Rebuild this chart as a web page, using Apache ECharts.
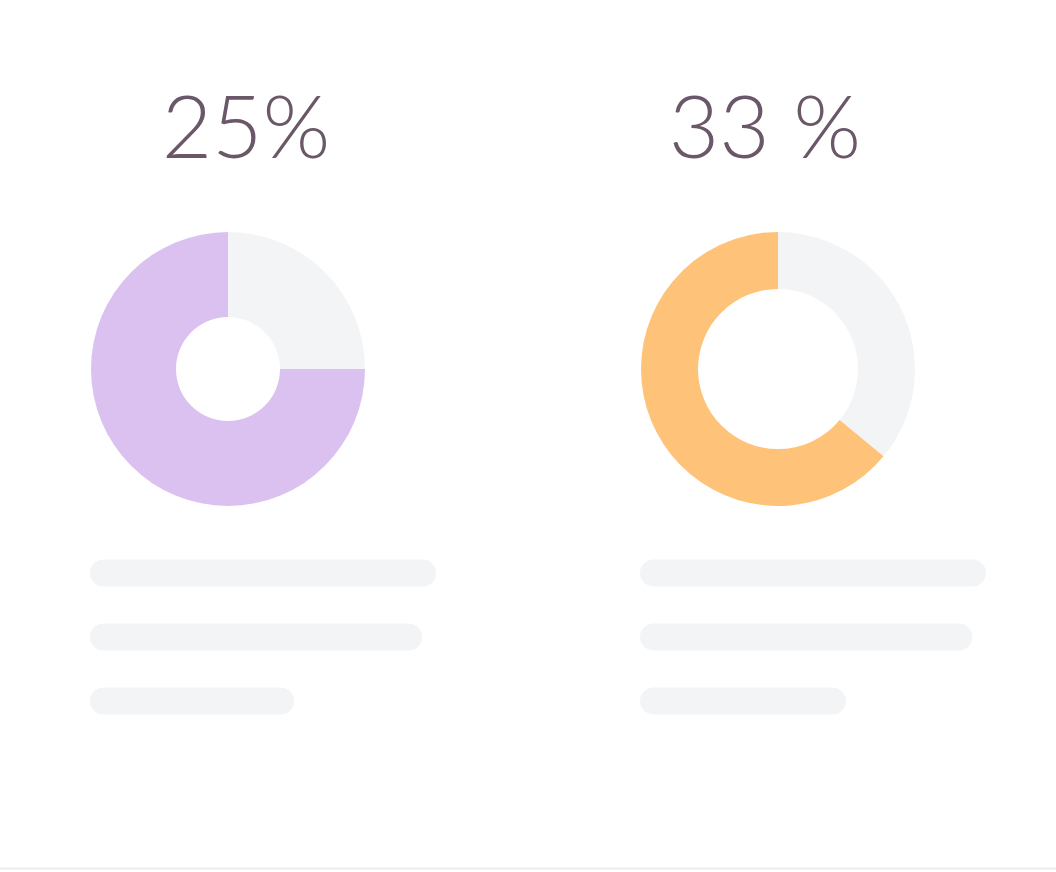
<!DOCTYPE html>
<html>
<head>
<meta charset="utf-8">
<script src="https://cdn.jsdelivr.net/npm/echarts@6/dist/echarts.min.js"></script>
<style>
  html, body { margin: 0; padding: 0; background: #fff; }
  #chart { width: 1056px; height: 872px; }
</style>
</head>
<body>
<div id="chart"></div>
<script>
// donut values (rest / filled)
const headings = ['25%', '33 %'];
const restValues = [25, 36];
const fillValues = [75, 64];
const fillColors = ['#dbc1f0', '#ffc279'];

// placeholder text lines under each donut
const lineRows = ['line1', 'line2', 'line3'];
const leftLines = [100, 96, 59];
const rightLines = [100, 96, 59.5];

const chart = echarts.init(document.getElementById('chart'));

const centersX = [228, 778];
const innerR = [52, 80];

const pieSeries = headings.map((h, i) => ({
    type: 'pie',
    center: [centersX[i], 369],
    radius: [innerR[i], 137],
    startAngle: 90,
    clockwise: true,
    silent: true,
    label: { show: false },
    labelLine: { show: false },
    data: [
        { value: restValues[i], name: 'rest', itemStyle: { color: '#f3f4f6' } },
        { value: fillValues[i], name: h, itemStyle: { color: fillColors[i] } }
    ]
}));

const lineSets = [leftLines, rightLines];
const barSeries = lineSets.map((vals, i) => ({
    type: 'bar',
    xAxisIndex: i,
    yAxisIndex: i,
    barWidth: 27,
    silent: true,
    itemStyle: { color: '#f3f4f6', borderRadius: 14 },
    data: vals
}));

const headX = [246, 765];

const option = {
    backgroundColor: '#ffffff',
    animation: false,
    grid: [
        { left: 90, top: 541, width: 346, height: 192 },
        { left: 640, top: 541, width: 346, height: 192 }
    ],
    xAxis: [0, 1].map(i => ({
        gridIndex: i, type: 'value', min: 0, max: 100, show: false
    })),
    yAxis: [0, 1].map(i => ({
        gridIndex: i, type: 'category', inverse: true, data: lineRows, show: false
    })),
    series: [...pieSeries, ...barSeries],
    graphic: [
        ...headings.map((h, i) => ({
            type: 'text',
            x: headX[i],
            y: 130,
            style: {
                text: h,
                fontFamily: 'Lato',
                fontWeight: 300,
                fontSize: 87,
                fill: '#6a5869',
                align: 'center',
                verticalAlign: 'middle',
                textAlign: 'center',
                textVerticalAlign: 'middle'
            }
        })),
        {
            type: 'line',
            shape: { x1: 0, y1: 868.5, x2: 1056, y2: 868.5 },
            style: { stroke: '#ececec', lineWidth: 2 }
        }
    ]
};
chart.setOption(option);
</script>
</body>
</html>
